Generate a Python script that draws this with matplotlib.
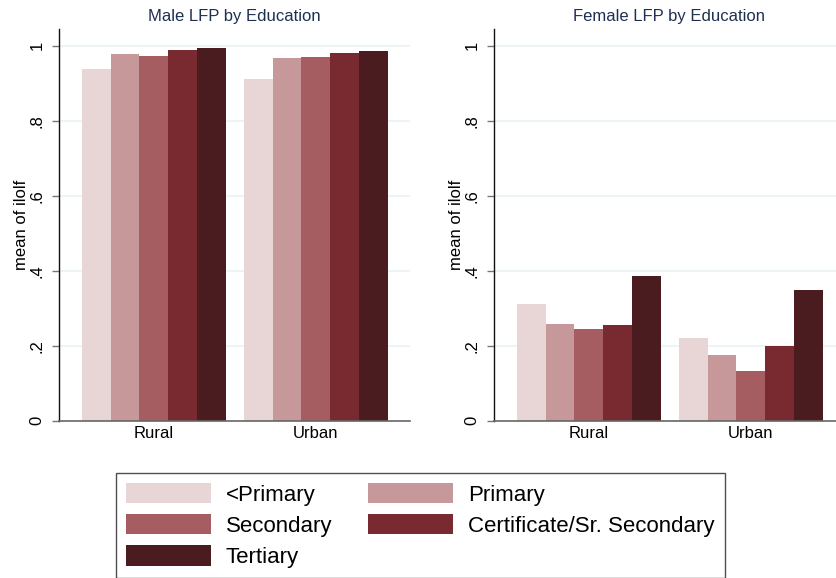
import numpy as np
import matplotlib
matplotlib.use("Agg")
import matplotlib.pyplot as plt

plt.rcParams['font.family'] = ['Liberation Sans', 'DejaVu Sans']

# data (mean of ilolf)
areas = ["Rural", "Urban"]
levels = ["<Primary", "Primary", "Secondary", "Certificate/Sr. Secondary", "Tertiary"]
male = [[0.937, 0.977, 0.972, 0.988, 0.994],
        [0.912, 0.966, 0.970, 0.981, 0.987]]
female = [[0.311, 0.258, 0.245, 0.255, 0.385],
          [0.220, 0.175, 0.132, 0.198, 0.348]]
titles = ["Male LFP by Education", "Female LFP by Education"]
yticks = [0, 0.2, 0.4, 0.6, 0.8, 1.0]
ytick_labels = ["0", ".2", ".4", ".6", ".8", "1"]

colors = ["#e8d6d7", "#c7989a", "#a55d61", "#792a31", "#4a1b1f"]

W, H = 837, 578
fig = plt.figure(figsize=(W / 100, H / 100), dpi=100)

group_gap = 0.64
axes_px = [59, 494]
handles = []
for k, (vals, title) in enumerate(zip([male, female], titles)):
    ax = fig.add_axes([axes_px[k] / W, 1 - 420.7 / H, 351 / W, 391.7 / H])
    centers = []
    for g, row in enumerate(vals):
        start = g * (len(levels) + group_gap)
        xs = start + np.arange(len(levels)) + 0.5
        centers.append(start + len(levels) / 2)
        for i, v in enumerate(row):
            b = ax.bar(xs[i], v, width=1.0, color=colors[i], linewidth=0, zorder=2)
            if k == 0 and g == 0:
                handles.append(b)
    ax.set_xlim(-0.8, 11.42)
    ax.set_ylim(0, 1.0445)
    ax.set_xticks(centers)
    ax.set_xticklabels(areas, fontsize=12)
    ax.tick_params(axis='x', length=0, pad=4)
    ax.set_yticks(yticks)
    ax.set_yticklabels(ytick_labels, rotation=90, va='center', fontsize=12)
    ax.tick_params(axis='y', length=4.8, width=1, color='#777777', pad=5.5)
    for t in yticks[1:]:
        ax.axhline(t, color='#eaf2f3', lw=1.2, zorder=1)
    ax.spines['top'].set_visible(False)
    ax.spines['right'].set_visible(False)
    ax.spines['left'].set_color('#111111')
    ax.spines['bottom'].set_color('#666666')
    ax.spines['left'].set_linewidth(1.0)
    ax.spines['bottom'].set_linewidth(1.2)
    ax.set_ylabel("mean of ilolf", fontsize=12, va='center')
    ax.yaxis.set_label_coords(-0.108, 0.5)
    ax.set_title(title, fontsize=12, color='#1e3050', pad=6)

# legend reads row by row: matplotlib fills columns first, so reorder
order = [0, 2, 4, 1, 3]
leg = fig.legend([handles[i] for i in order], [levels[i] for i in order],
                 ncol=2, loc='upper left',
                 bbox_to_anchor=(115.7 / W, 1 - 472.7 / H),
                 fontsize=16, frameon=True, fancybox=False,
                 handlelength=3.83, handleheight=1.04, handletextpad=0.68,
                 columnspacing=1.6, labelspacing=0.38, borderpad=0.45,
                 borderaxespad=0)
leg.get_frame().set_edgecolor('#222222')
leg.get_frame().set_linewidth(1.0)

fig.savefig("out.png", dpi=100)
